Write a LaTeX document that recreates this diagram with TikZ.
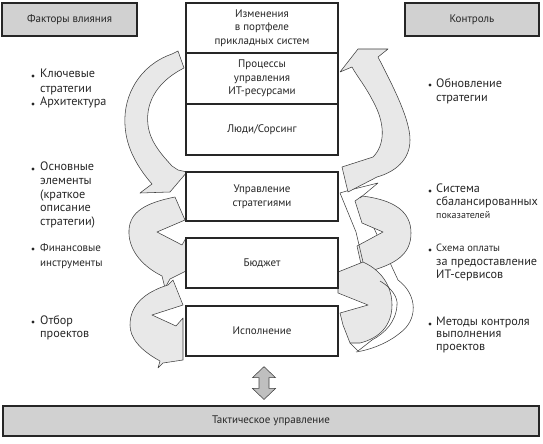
\documentclass[tikz,border=0pt]{standalone}
\usepackage{fontspec}
\setmainfont{PT Sans}
\usetikzlibrary{calc}
\begin{document}
\begin{tikzpicture}[x=1pt,y=-1pt,
  hdr/.style={draw=black!85, line width=1.1pt, fill=black!18, inner sep=0pt, text=black!85, font=\fontsize{11}{13}\selectfont},
  cbox/.style={draw=black!85, line width=1.3pt, fill=white, inner sep=0pt, minimum width=152pt, align=center, text=black!85, font=\fontsize{11}{13.5}\selectfont},
  arr/.style={draw=black!75, line width=0.55pt, fill=black!9, line join=round},
  ghost/.style={draw=black!75, line width=0.55pt, line join=round},
  txt/.style={text=black!85, inner sep=0pt, align=left, anchor=north west, font=\fontsize{12.2}{14.5}\selectfont},
  dot/.style={fill=black!85}
]
\useasboundingbox (0,0) rectangle (543,444);

% left curved arrows
\draw[arr] (172,54) -- (178,51) -- (184,68)
  .. controls (160,80) and (145,100) .. (148,125)
  .. controls (150,142) and (162,155) .. (172,166) -- (178,170) -- (187,172)
  -- (170,192) -- (140,193) -- (152,184)
  .. controls (138,168) and (126,148) .. (125,125)
  .. controls (123,95) and (140,65) .. (172,54) -- cycle;
\draw[arr] (175,197) -- (185,220) -- (157,232) -- (182,245) -- (186,238) -- (186,271)
  -- (170,279) -- (165,288) -- (162,276)
  .. controls (140,265) and (128,248) .. (129,230)
  .. controls (130,212) and (145,203) .. (175,197) -- cycle;
\draw[arr] (168,285) -- (173,280) -- (183,305) -- (152,315) -- (176,326) -- (183,318) -- (183,360)
  -- (163,363) -- (158,368) -- (160,361)
  .. controls (140,350) and (130,338) .. (130,325)
  .. controls (130,305) and (145,292) .. (168,285) -- cycle;

% right curved arrows
\draw[ghost] (360,198) -- (398,280) .. controls (418,295) and (418,320) .. (400,333)
  .. controls (388,343) and (370,350) .. (356,352);
\draw[arr] (362,196) .. controls (395,200) and (411,212) .. (411,233)
  .. controls (411,255) and (395,265) .. (363,273) -- (357,246) -- (383,232) -- (362,223) -- (355,201) -- cycle;
\draw[arr] (338,272) -- (363,262) .. controls (385,272) and (392,290) .. (392,305)
  .. controls (392,325) and (380,338) .. (360,343) -- (350,343) -- (343,325) -- (340,313) -- (368,305) -- (338,293) -- cycle;
\draw[ghost] (380,281) .. controls (392,288) and (398,298) .. (397,305)
  .. controls (396,322) and (385,333) .. (372,340) -- (358,351) -- (350,343);
\draw[ghost] (340,193) -- (356,232) -- (363,262);
\draw[ghost] (340,193) -- (350,190) -- (378,183) -- (360,198);
\draw[arr] (340,72) -- (358,49) -- (388,49) -- (378,57)
  .. controls (395,90) and (410,120) .. (410,140)
  .. controls (410,160) and (395,172) .. (377,177) -- (348,192) -- (342,167) -- (373,157)
  .. controls (385,145) and (385,125) .. (375,105)
  .. controls (365,85) and (358,78) .. (352,67) -- cycle;

% header boxes
\node[hdr, minimum width=135pt, minimum height=33pt] (fac) at (69.5,19.5) {Факторы влияния};
\node[hdr, minimum width=134pt, minimum height=33pt] (ctl) at (472,19.5) {Контроль};
\node[hdr, minimum width=536pt, minimum height=30pt] (tac) at (271,421) {Тактическое управление};

% centre column
\node[cbox, minimum height=50pt] (b1) at (262,28) {Изменения\\в портфеле\\прикладных систем};
\node[cbox, minimum height=51pt] (b2) at (262,78.5) {Процессы\\управления\\ИТ-ресурсами};
\node[cbox, minimum height=51pt] (b3) at (262,129.5) {Люди/Сорсинг};
\node[cbox, minimum height=49pt] (b4) at (262,196.5) {Управление\\стратегиями};
\node[cbox, minimum height=50pt] (b5) at (262,263) {Бюджет};
\node[cbox, minimum height=50pt] (b6) at (262,331) {Исполнение};

% double arrow
\coordinate (da) at ($(b6.south)+(2,10)$);
\coordinate (db) at ($(tac.north)+(-7,-6)$);
\draw[draw=black!75, line width=0.55pt, fill=black!25]
  (da) -- ++(11.5,11) -- ++(-6.5,0) -- ($(db)+(5,-11)$) -- ++(6.5,0) -- (db)
  -- ++(-11.5,-11) -- ++(6.5,0) -- ($(da)+(-5,11)$) -- ++(-6.5,0) -- cycle;

% left texts
\fill[dot] (33,76) circle (1.7);
\node[txt, font=\fontsize{12.2}{15}\selectfont] (l1) at (40,69) {Ключевые\\стратегии};
\fill[dot] (33,104) circle (1.7);
\node[txt] (l2) at (40,97) {Архитектура};
\fill[dot] (33,169) circle (1.7);
\node[txt, font=\fontsize{12.2}{13.6}\selectfont] (l3) at (40,162) {Основные\\элементы\\(краткое\\описание\\стратегии)};
\fill[dot] (33,249) circle (1.7);
\node[txt, font=\fontsize{11}{15}\selectfont] (l4) at (40,243) {Финансовые\\инструменты};
\fill[dot] (33,322) circle (1.7);
\node[txt, font=\fontsize{12.2}{13.5}\selectfont] (l5) at (40,315) {Отбор\\проектов};

% right texts
\fill[dot] (430,85) circle (1.7);
\node[txt] (r1) at (436,78) {Обновление\\стратегии};
\fill[dot] (430,191) circle (1.7);
\node[txt, font=\fontsize{12.2}{13}\selectfont] (r2) at (436,184) {Система\\сбалансированных\\{\fontsize{10}{12}\selectfont показателей}};
\fill[dot] (430,250) circle (1.7);
\node[txt, font=\fontsize{12.2}{13.5}\selectfont] (r3) at (436,244) {{\fontsize{10.5}{12}\selectfont Схема оплаты}\\за предоставление\\ИТ-сервисов};
\fill[dot] (430,324) circle (1.7);
\node[txt, font=\fontsize{12.2}{12.2}\selectfont] (r4) at (436,317) {Методы контроля\\выполнения\\проектов};
\end{tikzpicture}
\end{document}
